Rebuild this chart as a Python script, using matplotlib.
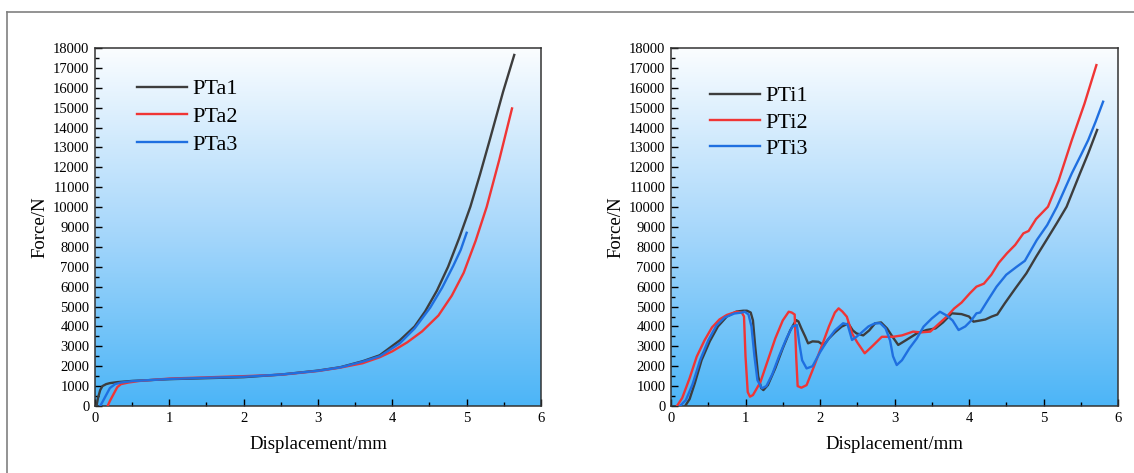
import numpy as np
import matplotlib
matplotlib.use('Agg')
import matplotlib.pyplot as plt
from matplotlib.colors import LinearSegmentedColormap
from matplotlib.ticker import MultipleLocator
from matplotlib.lines import Line2D

# Left panel: PTa series (displacement mm, force N)
pta1_x = [0.02, 0.04, 0.07, 0.1, 0.15, 0.2, 0.3, 0.5, 1.0, 1.5, 2.0, 2.5, 3.0, 3.3, 3.6,
          3.83, 4.1, 4.3, 4.44, 4.6, 4.75, 4.9, 5.05, 5.18, 5.31, 5.49, 5.64]
pta1_y = [0, 400, 800, 1000, 1100, 1150, 1200, 1260, 1350, 1400, 1450, 1580, 1780, 1950, 2250,
          2550, 3300, 4000, 4750, 5800, 7000, 8450, 10020, 11650, 13370, 15800, 17650]

pta2_x = [0.17, 0.2, 0.25, 0.3, 0.35, 0.45, 0.6, 1.0, 1.5, 2.0, 2.5, 3.0, 3.3, 3.6, 3.83,
          4.0, 4.2, 4.4, 4.62, 4.8, 4.96, 5.12, 5.27, 5.44, 5.61]
pta2_y = [0, 250, 600, 950, 1100, 1180, 1260, 1380, 1440, 1500, 1570, 1760, 1930, 2150, 2450,
          2750, 3200, 3750, 4550, 5550, 6700, 8300, 10020, 12400, 14960]

pta3_x = [0.07, 0.1, 0.15, 0.2, 0.27, 0.35, 0.5, 1.0, 1.5, 2.0, 2.5, 3.0, 3.3, 3.6, 3.83,
          4.1, 4.3, 4.51, 4.67, 4.82, 4.92, 5.0]
pta3_y = [0, 200, 550, 900, 1100, 1180, 1250, 1360, 1420, 1470, 1580, 1770, 1940, 2230, 2500,
          3150, 3900, 4950, 5950, 7050, 7850, 8710]

# Right panel: PTi series
pti1_x = [0.19, 0.25, 0.32, 0.41, 0.52, 0.63, 0.75, 0.88, 0.97, 1.02, 1.07, 1.1, 1.13, 1.17,
          1.21, 1.24, 1.3, 1.4, 1.5, 1.6, 1.68, 1.71, 1.75, 1.8, 1.84, 1.9, 1.98, 2.05, 2.12,
          2.2, 2.29, 2.38, 2.44, 2.49, 2.58, 2.66, 2.74, 2.82, 2.9, 2.97, 3.05, 3.15, 3.3,
          3.43, 3.55, 3.65, 3.77, 3.9, 4.0, 4.06, 4.15, 4.22, 4.3, 4.38, 4.48, 4.62, 4.77,
          4.9, 5.04, 5.18, 5.31, 5.49, 5.6, 5.72]
pti1_y = [0, 350, 1150, 2300, 3250, 4000, 4500, 4750, 4790, 4790, 4700, 4300, 3000, 1500,
          900, 800, 1050, 1900, 2900, 3800, 4320, 4250, 3900, 3500, 3150, 3250, 3230, 3050,
          3400, 3700, 3990, 4150, 3800, 3650, 3550, 3800, 4160, 4200, 3900, 3500, 3070, 3300,
          3650, 3820, 3900, 4200, 4660, 4620, 4500, 4240, 4300, 4350, 4490, 4600, 5160, 5900,
          6670, 7500, 8345, 9200, 10020, 11700, 12700, 13880]

pti2_x = [0.08, 0.15, 0.25, 0.345, 0.45, 0.55, 0.65, 0.75, 0.88, 0.95, 0.98, 1.0, 1.03,
          1.06, 1.1, 1.2, 1.3, 1.4, 1.5, 1.58, 1.62, 1.66, 1.68, 1.7, 1.75, 1.82, 1.9, 2.02,
          2.12, 2.2, 2.25, 2.3, 2.36, 2.43, 2.5, 2.6, 2.7, 2.83, 2.98, 3.1, 3.25, 3.35, 3.48,
          3.6, 3.7, 3.8, 3.9, 4.01, 4.1, 4.2, 4.3, 4.4, 4.51, 4.62, 4.73, 4.8, 4.9, 5.06,
          5.2, 5.38, 5.55, 5.71]
pti2_y = [0, 400, 1400, 2480, 3300, 3950, 4350, 4580, 4740, 4700, 4500, 2500, 700, 470, 550,
          1200, 2300, 3400, 4300, 4740, 4700, 4600, 2500, 1000, 920, 1050, 1800, 2980, 4000,
          4700, 4910, 4750, 4490, 3650, 3200, 2650, 3000, 3480, 3480, 3550, 3740, 3700, 3740,
          4150, 4490, 4900, 5200, 5660, 6000, 6150, 6600, 7200, 7680, 8100, 8680, 8800, 9400,
          10020, 11300, 13370, 15200, 17140]

pti3_x = [0.12, 0.2, 0.29, 0.39, 0.5, 0.61, 0.72, 0.85, 0.95, 0.99, 1.04, 1.08, 1.12, 1.16,
          1.22, 1.28, 1.36, 1.45, 1.55, 1.63, 1.69, 1.72, 1.76, 1.82, 1.9, 2.0, 2.1, 2.2,
          2.31, 2.37, 2.43, 2.49, 2.56, 2.65, 2.74, 2.81, 2.88, 2.94, 2.98, 3.03, 3.1, 3.2,
          3.3, 3.39, 3.5, 3.61, 3.7, 3.78, 3.86, 3.95, 4.03, 4.1, 4.15, 4.25, 4.37, 4.5,
          4.64, 4.75, 4.91, 5.05, 5.18, 5.38, 5.5, 5.6, 5.7, 5.8]
pti3_y = [0, 300, 1100, 2300, 3300, 4050, 4450, 4650, 4700, 4740, 4600, 4000, 2500, 1300,
          890, 1000, 1600, 2500, 3400, 4000, 4070, 3200, 2300, 1890, 2000, 2700, 3300, 3800,
          4160, 4100, 3320, 3480, 3700, 4000, 4160, 4160, 3900, 3300, 2500, 2060, 2300, 2900,
          3400, 3990, 4400, 4740, 4550, 4300, 3820, 4000, 4300, 4660, 4700, 5300, 6000, 6600,
          7000, 7300, 8345, 9100, 10020, 11700, 12600, 13370, 14300, 15300]

left_series = [('PTa1', pta1_x, pta1_y), ('PTa2', pta2_x, pta2_y), ('PTa3', pta3_x, pta3_y)]
right_series = [('PTi1', pti1_x, pti1_y), ('PTi2', pti2_x, pti2_y), ('PTi3', pti3_x, pti3_y)]
colors = ['#3d3d3d', '#f03535', '#1f6fe0']

plt.rcParams['font.family'] = ['Liberation Serif', 'DejaVu Serif']

fig = plt.figure(figsize=(11.34, 4.73), dpi=100)
fig.patch.set_facecolor('white')

# thin frame lines at the top and left like the source figure
fig.add_artist(Line2D([7 / 1134, 1], [1 - 12 / 473, 1 - 12 / 473], color='#808080', lw=1.2))
fig.add_artist(Line2D([7 / 1134, 7 / 1134], [0, 1 - 12 / 473], color='#808080', lw=1.2))

grad_cmap = LinearSegmentedColormap.from_list('bg', ['#fbfdff', '#a9d8fb', '#4cb5f7'])
grad = np.linspace(0, 1, 256).reshape(-1, 1)

ax_l = fig.add_axes([95 / 1134, 67 / 473, 446 / 1134, 358 / 473])
ax_r = fig.add_axes([671 / 1134, 67 / 473, 447 / 1134, 358 / 473])

legend_spots = [(ax_l, left_series, (0.074, 0.939), 0.33),
                (ax_r, right_series, (0.067, 0.919), 0.26)]

for ax, series, anchor, spacing in legend_spots:
    ax.imshow(grad, cmap=grad_cmap, aspect='auto', extent=[0, 1, 0, 1],
              transform=ax.transAxes, zorder=0)
    for (name, xs, ys), c in zip(series, colors):
        ax.plot(xs, ys, color=c, lw=1.7, label=name, zorder=3)
    ax.set_xlim(0, 6)
    ax.set_ylim(0, 18000)
    ax.xaxis.set_major_locator(MultipleLocator(1))
    ax.xaxis.set_minor_locator(MultipleLocator(0.5))
    ax.yaxis.set_major_locator(MultipleLocator(1000))
    ax.yaxis.set_minor_locator(MultipleLocator(500))
    ax.tick_params(which='major', direction='in', length=5, width=1, labelsize=10.5,
                   top=False, right=False, pad=4)
    ax.tick_params(which='minor', direction='in', length=3, width=1, top=False, right=False)
    for sp in ax.spines.values():
        sp.set_linewidth(1.1)
        sp.set_color('#333333')
    ax.set_xlabel('Displacement/mm', fontsize=13.5, labelpad=8)
    ax.set_ylabel('Force/N', fontsize=13.5, labelpad=3)
    ax.legend(loc='upper left', bbox_to_anchor=anchor, frameon=False, fontsize=16,
              handlelength=2.25, handletextpad=0.23, labelspacing=spacing, borderaxespad=0)

fig.savefig('out.png', dpi=100)
